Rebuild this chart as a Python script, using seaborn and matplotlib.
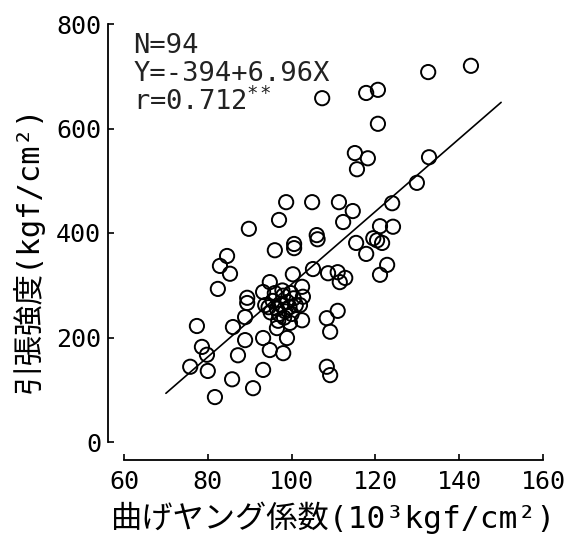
import matplotlib
matplotlib.use("Agg")
import matplotlib.pyplot as plt
import seaborn as sns
import pandas as pd

# Bending Young's modulus (10^3 kgf/cm^2) and tensile strength (kgf/cm^2)
young_modulus = [
    132.6, 142.8, 107.3, 117.8, 120.6, 120.6, 115.1, 118.2, 115.6, 132.8,
    129.9, 104.9, 111.3, 114.6, 112.3, 124.0, 121.1, 124.2, 106.0, 106.2,
    115.4, 120.4, 121.6, 119.5, 98.7, 97.0, 89.8, 100.6, 100.6, 96.0,
    84.6, 82.9, 85.3, 82.4, 105.1, 108.7, 111.0, 111.5, 112.8, 100.3,
    102.5, 94.8, 93.2, 89.4, 102.7, 89.4, 93.7, 88.9, 86.0, 77.4,
    102.5, 99.6, 96.5, 93.2, 98.9, 88.9, 94.8, 98.0, 87.2, 78.6,
    79.8, 75.8, 80.0, 85.8, 93.2, 90.8, 81.7, 108.4, 109.2, 111.0,
    108.4, 109.2, 117.8, 122.8, 121.1, 102.0,
    95.5, 96.5, 97.0, 97.5, 98.0, 98.5, 99.0, 99.5, 100.0, 96.0,
    97.8, 100.5, 95.0, 98.2, 99.8, 96.8, 94.5, 101.0,
]
tensile_strength = [
    708, 720, 658, 668, 674, 609, 553, 543, 522, 545,
    496, 459, 459, 442, 421, 457, 413, 412, 396, 388,
    381, 386, 381, 390, 459, 425, 408, 379, 371, 367,
    356, 337, 322, 293, 331, 323, 325, 306, 314, 321,
    297, 306, 287, 276, 278, 266, 262, 239, 220, 222,
    233, 228, 218, 199, 199, 195, 176, 170, 166, 182,
    167, 144, 136, 120, 138, 103, 86, 237, 211, 251,
    144, 128, 360, 339, 320, 262,
    270, 255, 245, 262, 280, 250, 268, 258, 245, 285,
    290, 275, 248, 238, 285, 232, 258, 262,
]

# Regression Y = a + bX, drawn over the fitted range
intercept = -394
slope = 6.96
fit_range = [70, 150]
n_samples = 94
corr_r = 0.712

x_ticks = [60, 80, 100, 120, 140, 160]
y_ticks = [0, 200, 400, 600, 800]

df = pd.DataFrame({"E": young_modulus, "S": tensile_strength})

sns.set_theme(style="white")
plt.rcParams["font.family"] = ["DejaVu Sans Mono", "Noto Sans CJK JP"]

fig = plt.figure(figsize=(5.73, 5.42), dpi=100)
ax = fig.add_axes([124 / 573, 100 / 542, 419 / 573, 418 / 542])

sns.scatterplot(data=df, x="E", y="S", ax=ax, s=105, marker="o",
                facecolor="none", edgecolor="black", linewidth=1.4)

fit_y = [intercept + slope * v for v in fit_range]
sns.lineplot(x=fit_range, y=fit_y, ax=ax, color="black", linewidth=1.2)

ax.set_xlim(60, 160)
ax.set_ylim(0, 800)
ax.set_xticks(x_ticks)
ax.set_yticks(y_ticks)

# Detached L-shaped frame
for side in ["top", "right"]:
    ax.spines[side].set_visible(False)
ax.spines["left"].set_position(("outward", 11.5))
ax.spines["bottom"].set_position(("outward", 13))
ax.spines["left"].set_bounds(0, 800)
ax.spines["bottom"].set_bounds(60, 160)
for side in ["left", "bottom"]:
    ax.spines[side].set_color("black")
    ax.spines[side].set_linewidth(1.3)

ax.tick_params(axis="both", direction="in", length=4.5, width=1.2,
               colors="black", labelsize=18)
ax.tick_params(axis="y", pad=5, left=True)
ax.tick_params(axis="x", pad=7, bottom=True)

ax.set_xlabel("曲げヤング係数(10³kgf/cm²)", fontsize=22.5, color="black",
              va="center")
ax.set_ylabel("引張強度(kgf/cm²)", fontsize=22, color="black",
              va="center")
ax.xaxis.set_label_coords(0.5, -0.182)
ax.yaxis.set_label_coords(-0.23, 0.46)

stats = [f"N={n_samples}",
         f"Y={intercept}+{slope}X",
         f"r={corr_r}$^{{**}}$"]
for i, line in enumerate(stats):
    ax.text(0.022, 0.947 - i * 0.066, line, transform=ax.transAxes,
            fontsize=19.5, color="#222222", va="center", ha="left")

fig.savefig("out.png", dpi=100, facecolor="white")
